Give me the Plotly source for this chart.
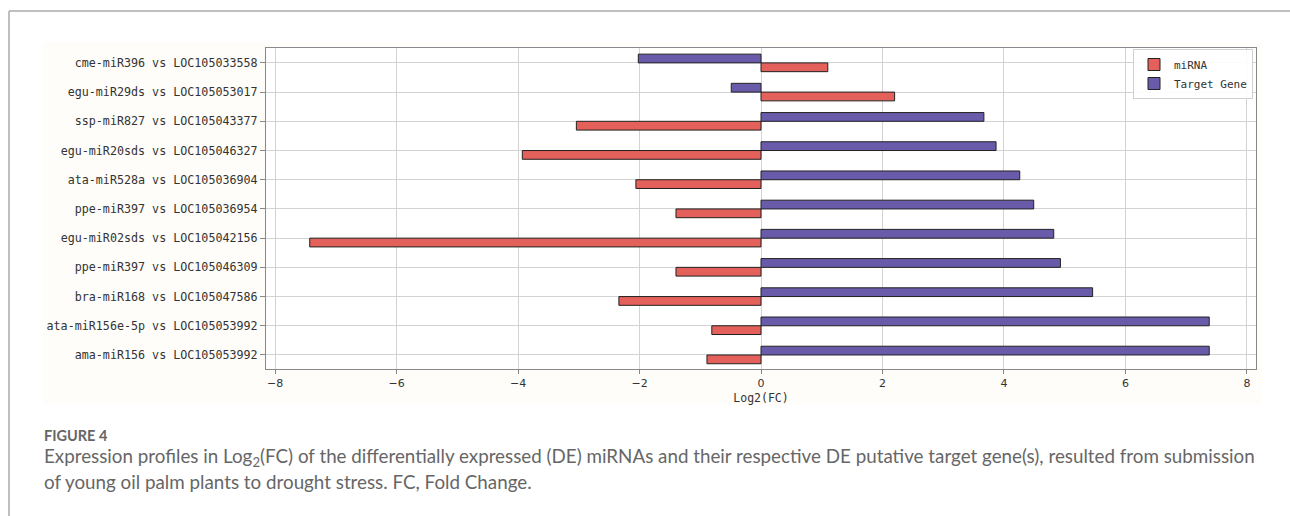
import plotly.graph_objects as go

W, H = 1290, 516

categories = [
    "cme-miR396 vs LOC105033558",
    "egu-miR29ds vs LOC105053017",
    "ssp-miR827 vs LOC105043377",
    "egu-miR20sds vs LOC105046327",
    "ata-miR528a vs LOC105036904",
    "ppe-miR397 vs LOC105036954",
    "egu-miR02sds vs LOC105042156",
    "ppe-miR397 vs LOC105046309",
    "bra-miR168 vs LOC105047586",
    "ata-miR156e-5p vs LOC105053992",
    "ama-miR156 vs LOC105053992",
]
mirna = [1.10, 2.20, -3.04, -3.93, -2.06, -1.40, -7.43, -1.40, -2.34, -0.81, -0.89]
target = [-2.02, -0.49, 3.67, 3.87, 4.26, 4.49, 4.82, 4.93, 5.46, 7.38, 7.38]
x_ticks = [-8, -6, -4, -2, 0, 2, 4, 6, 8]
x_tick_labels = ["\u22128", "\u22126", "\u22124", "\u22122", "0", "2", "4", "6", "8"]

RED = "#E3615A"
PURPLE = "#6A5BAA"
EDGE = "#222222"

def px(x):
    return x / W

def py(y):
    return 1 - y / H

fig = go.Figure()
fig.add_trace(go.Bar(
    y=categories, x=target, orientation="h", name="Target Gene",
    marker=dict(color=PURPLE, line=dict(color=EDGE, width=1)),
))
fig.add_trace(go.Bar(
    y=categories, x=mirna, orientation="h", name="miRNA",
    marker=dict(color=RED, line=dict(color=EDGE, width=1)),
))

mono = "DejaVu Sans Mono"
fig.update_layout(
    width=W, height=H,
    margin=dict(l=0, r=0, t=0, b=0),
    paper_bgcolor="white", plot_bgcolor="white",
    barmode="group", bargap=0.4, bargroupgap=0,
    showlegend=True,
    legend=dict(
        x=px(1253), y=py(49), xanchor="right", yanchor="top",
        bgcolor="rgba(255,255,255,0.9)", bordercolor="#d0d0d0", borderwidth=1,
        traceorder="reversed",
        font=dict(family=mono, size=11, color="#333"),
        itemwidth=30, tracegroupgap=0,
    ),
    xaxis=dict(
        domain=[px(266), px(1256)],
        range=[-8.15, 8.15],
        tickvals=x_ticks, ticktext=x_tick_labels,
        tickfont=dict(family="DejaVu Sans", size=11, color="#333"),
        showgrid=True, gridcolor="#d3d3d3", gridwidth=1,
        zeroline=False,
        showline=True, linecolor="#888", linewidth=1, mirror=True,
        ticks="outside", ticklen=4, tickcolor="#888",
        title=dict(text="Log2(FC)", font=dict(family=mono, size=11.5, color="#333"), standoff=4),
    ),
    yaxis=dict(
        domain=[py(369), py(48)],
        type="category",
        range=[10.48, -0.51],
        tickfont=dict(family=mono, size=11.7, color="#333"),
        showgrid=True, gridcolor="#d3d3d3", gridwidth=1,
        zeroline=False,
        showline=True, linecolor="#888", linewidth=1, mirror=True,
        ticks="outside", ticklen=5, tickcolor="#888",
    ),
    shapes=[
        dict(type="rect", xref="paper", yref="paper",
             x0=px(43), x1=px(1261), y0=py(405), y1=py(42),
             fillcolor="#fefdf9", line=dict(width=0), layer="below"),
        dict(type="rect", xref="paper", yref="paper",
             x0=px(266), x1=px(1256), y0=py(369), y1=py(48),
             fillcolor="white", line=dict(width=0), layer="below"),
        dict(type="line", xref="paper", yref="paper",
             x0=px(9), x1=px(9), y0=0, y1=py(11),
             line=dict(color="#aaaaaa", width=1.5)),
        dict(type="line", xref="paper", yref="paper",
             x0=px(9), x1=1, y0=py(11), y1=py(11),
             line=dict(color="#aaaaaa", width=1.5)),
    ],
    annotations=[
        dict(text="<b>FIGURE 4</b>", xref="paper", yref="paper",
             x=px(42), y=py(435), xanchor="left", yanchor="middle",
             showarrow=False, font=dict(family="Lato", size=14.5, color="#666")),
        dict(text="Expression profiles in Log<sub>2</sub>(FC) of the differentially expressed (DE) miRNAs and their respective DE putative target gene(s), resulted from submission",
             xref="paper", yref="paper",
             x=px(42), y=py(457), xanchor="left", yanchor="middle",
             showarrow=False, font=dict(family="Lato", size=18.8, color="#666")),
        dict(text="of young oil palm plants to drought stress. FC, Fold Change.",
             xref="paper", yref="paper",
             x=px(42), y=py(481), xanchor="left", yanchor="middle",
             showarrow=False, font=dict(family="Lato", size=18.8, color="#666")),
    ],
)

fig.write_html(
    "out.html",
    config={"displayModeBar": False},
    post_script="document.body.style.margin='0';document.body.style.overflow='hidden';",
)
